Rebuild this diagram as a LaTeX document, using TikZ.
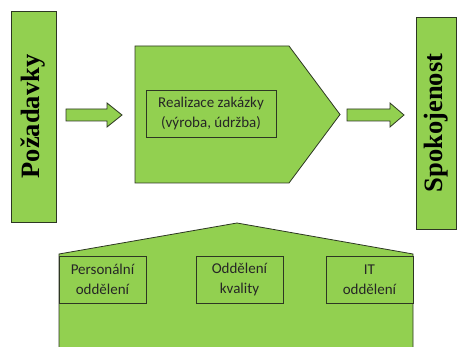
\documentclass[tikz,border=0pt]{standalone}
\usepackage{fontspec}
\setmainfont{Carlito}
\newfontfamily\titlefont{Liberation Serif}
\begin{document}
\begin{tikzpicture}[x=1pt,y=-1pt,
  greenpart/.style={fill=leaf,draw=edge,line width=0.8pt,line join=miter},
  boxtext/.style={font=\fontsize{15}{20}\selectfont,align=center,text=black!85},
  coltitle/.style={font=\titlefont\bfseries\fontsize{26.5}{30}\selectfont,rotate=90}]
\definecolor{leaf}{HTML}{92D050}
\definecolor{edge}{RGB}{45,55,35}
\useasboundingbox (0,0) rectangle (457,347);
\clip (0,0) rectangle (457,347);

% side columns
\draw[greenpart] (11,11) rectangle (56,222);
\node[coltitle] (req) at (33.5,116.5) {Požadavky};
\draw[greenpart] (416,17) rectangle (456,229);
\node[coltitle] (sat) at (436,123) {Spokojenost};

% block arrows
\draw[greenpart] (66,109) -- (107,109) -- (107,103) -- (122,115) -- (107,127) -- (107,121) -- (66,121) -- cycle;
\draw[greenpart] (347,109) -- (390,109) -- (390,103) -- (404,115) -- (390,127) -- (390,121) -- (347,121) -- cycle;

% central process pentagon
\draw[greenpart] (135,46) -- (289,46) -- (340,114.5) -- (289,183) -- (135,183) -- cycle;
\draw[greenpart] (146,90) rectangle (276,137);
\node[boxtext] (proc) at (211,113.5) {Realizace zakázky\\(výroba, údržba)};

% supporting departments
\draw[greenpart] (59,352) -- (59,254) -- (237,223) -- (413,254) -- (413,352);
\draw[greenpart] (59,256) rectangle (146,303);
\node[boxtext] (hr) at (102.5,279.5) {Personální\\oddělení};
\draw[greenpart] (196,256) rectangle (283,303);
\node[boxtext] (qa) at (239.5,279.5) {Oddělení\\kvality};
\draw[greenpart] (326,256) rectangle (413,303);
\node[boxtext] (it) at (369.5,279.5) {IT\\oddělení};
\end{tikzpicture}
\end{document}
